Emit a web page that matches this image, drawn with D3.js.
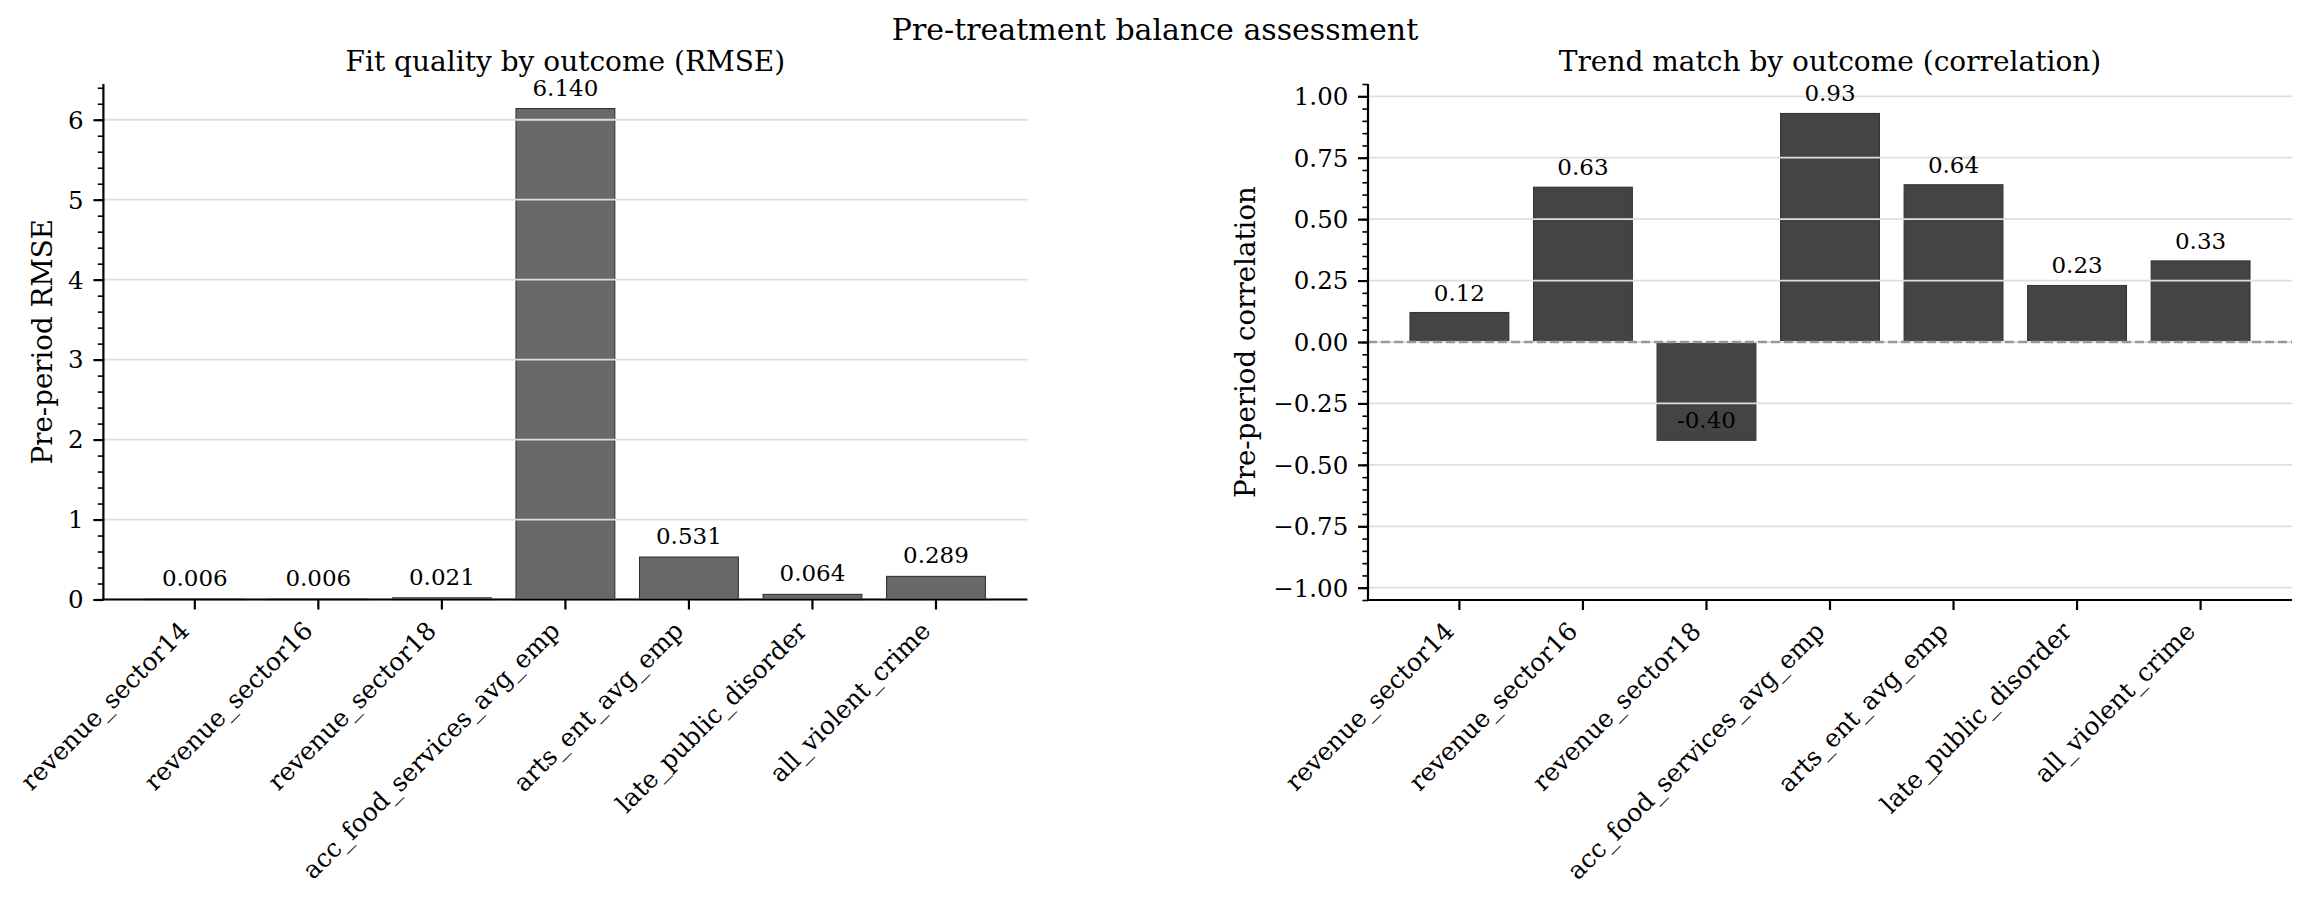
<!DOCTYPE html>
<html>
<head>
<meta charset="utf-8">
<script src="https://cdn.jsdelivr.net/npm/d3@7"></script>
<style>
  body { margin: 0; background: #fff; }
  text { font-family: "DejaVu Serif", serif; fill: #000; }
</style>
</head>
<body>
<div id="chart"></div>
<script>
// outcomes and the two balance metrics
const outcomes = ["revenue_sector14", "revenue_sector16", "revenue_sector18",
  "acc_food_services_avg_emp", "arts_ent_avg_emp", "late_public_disorder", "all_violent_crime"];
const rmseValues = [0.006, 0.006, 0.021, 6.140, 0.531, 0.064, 0.289];
const corrValues = [0.12, 0.63, -0.40, 0.93, 0.64, 0.23, 0.33];

const rmseTicks = [0, 1, 2, 3, 4, 5, 6];
const corrTicks = [-1, -0.75, -0.5, -0.25, 0, 0.25, 0.5, 0.75, 1];

const width = 2310, height = 902;
const svg = d3.select("#chart").append("svg")
  .attr("width", width).attr("height", height)
  .style("background", "#fff");

// figure title
svg.append("text")
  .attr("x", width / 2).attr("y", 40)
  .attr("text-anchor", "middle")
  .style("font-size", "30px")
  .text("Pre-treatment balance assessment");

function panel(o) {
  const g = svg.append("g");
  const x = d3.scaleBand().domain(d3.range(outcomes.length))
    .range([o.left, o.right]).paddingInner(0.2).paddingOuter(0.34);
  const y = d3.scaleLinear().domain(o.domain).range([o.bottom, o.top]);

  // bars
  g.selectAll("rect.bar").data(o.values).enter().append("rect")
    .attr("class", "bar")
    .attr("x", (d, i) => x(i))
    .attr("width", x.bandwidth())
    .attr("y", d => y(Math.max(0, d)))
    .attr("height", d => Math.abs(y(d) - y(0)))
    .attr("fill", o.color)
    .attr("stroke", "#333")
    .attr("stroke-width", 1.1);

  // grid over bars (matplotlib default zorder)
  g.selectAll("line.grid").data(o.ticks).enter().append("line")
    .attr("class", "grid")
    .attr("x1", o.left).attr("x2", o.right)
    .attr("y1", d => y(d)).attr("y2", d => y(d))
    .attr("stroke", "#dedede").attr("stroke-width", 1.8);

  if (o.zeroLine) {
    g.append("line")
      .attr("x1", o.left).attr("x2", o.right)
      .attr("y1", y(0)).attr("y2", y(0))
      .attr("stroke", "#999").attr("stroke-width", 2.4)
      .attr("stroke-dasharray", "9,4");
  }

  // value labels
  g.selectAll("text.val").data(o.values).enter().append("text")
    .attr("class", "val")
    .attr("x", (d, i) => x(i) + x.bandwidth() / 2)
    .attr("y", d => y(d) - o.labelOffset)
    .attr("text-anchor", "middle")
    .style("font-size", "23px")
    .text(o.fmtLabel);

  // y axis: minor then major ticks
  const yMinor = d3.axisLeft(y).tickValues(o.minor).tickSize(5.6).tickFormat("");
  g.append("g").attr("transform", `translate(${o.left},0)`).call(yMinor)
    .call(a => a.select(".domain").remove())
    .call(a => a.selectAll("line").attr("stroke", "#000").attr("stroke-width", 1.6));

  const yAxis = d3.axisLeft(y).tickValues(o.ticks).tickSize(10).tickPadding(9.7)
    .tickFormat(o.fmtTick);
  g.append("g").attr("transform", `translate(${o.left},0)`).call(yAxis)
    .call(a => a.select(".domain").remove())
    .call(a => a.selectAll("line").attr("stroke", "#000").attr("stroke-width", 2.2))
    .call(a => a.selectAll("text").style("font-size", "24.5px")
      .style("font-family", "DejaVu Serif").attr("fill", "#000").attr("dy", "0.34em"));

  // x axis with rotated labels
  const xAxis = d3.axisBottom(x).tickSize(10).tickFormat("");
  g.append("g").attr("transform", `translate(0,${o.bottom})`).call(xAxis)
    .call(a => a.select(".domain").remove())
    .call(a => a.selectAll("line").attr("stroke", "#000").attr("stroke-width", 2.2));

  g.selectAll("text.xlab").data(outcomes).enter().append("text")
    .attr("class", "xlab")
    .attr("transform", (d, i) =>
      `translate(${x(i) + x.bandwidth() / 2 - 4},${o.bottom + 19.7 + 13}) rotate(-45)`)
    .attr("text-anchor", "end")
    .style("font-size", "25px")
    .text(d => d);

  // spines: left and bottom only
  g.append("line").attr("x1", o.left).attr("x2", o.left)
    .attr("y1", o.top).attr("y2", o.bottom)
    .attr("stroke", "#000").attr("stroke-width", 2.2);
  g.append("line").attr("x1", o.left - 1.1).attr("x2", o.right)
    .attr("y1", o.bottom).attr("y2", o.bottom)
    .attr("stroke", "#000").attr("stroke-width", 2.2);

  // titles
  g.append("text")
    .attr("x", (o.left + o.right) / 2).attr("y", 70.5)
    .attr("text-anchor", "middle")
    .style("font-size", "28px")
    .text(o.title);

  g.append("text")
    .attr("transform", `translate(${o.ylabelX},${(o.top + o.bottom) / 2}) rotate(-90)`)
    .attr("text-anchor", "middle")
    .style("font-size", "27.7px")
    .text(o.ylabel);
}

panel({
  left: 103.4, right: 1027.4, top: 84, bottom: 599.5,
  domain: [0, 6.14 * 1.05],
  values: rmseValues, ticks: rmseTicks,
  minor: d3.range(0, 33).map(i => i * 0.2),
  color: "#696969", zeroLine: false, labelOffset: 13,
  fmtLabel: d => d.toFixed(3), fmtTick: d3.format("d"),
  title: "Fit quality by outcome (RMSE)", ylabel: "Pre-period RMSE", ylabelX: 51.7
});

panel({
  left: 1368, right: 2292, top: 84, bottom: 600,
  domain: [-1.05, 1.05],
  values: corrValues, ticks: corrTicks,
  minor: d3.range(-21, 22).map(i => i * 0.05),
  color: "#444444", zeroLine: true, labelOffset: 12,
  fmtLabel: d => d.toFixed(2), fmtTick: d3.format(".2f"),
  title: "Trend match by outcome (correlation)", ylabel: "Pre-period correlation", ylabelX: 1255
});
</script>
</body>
</html>
